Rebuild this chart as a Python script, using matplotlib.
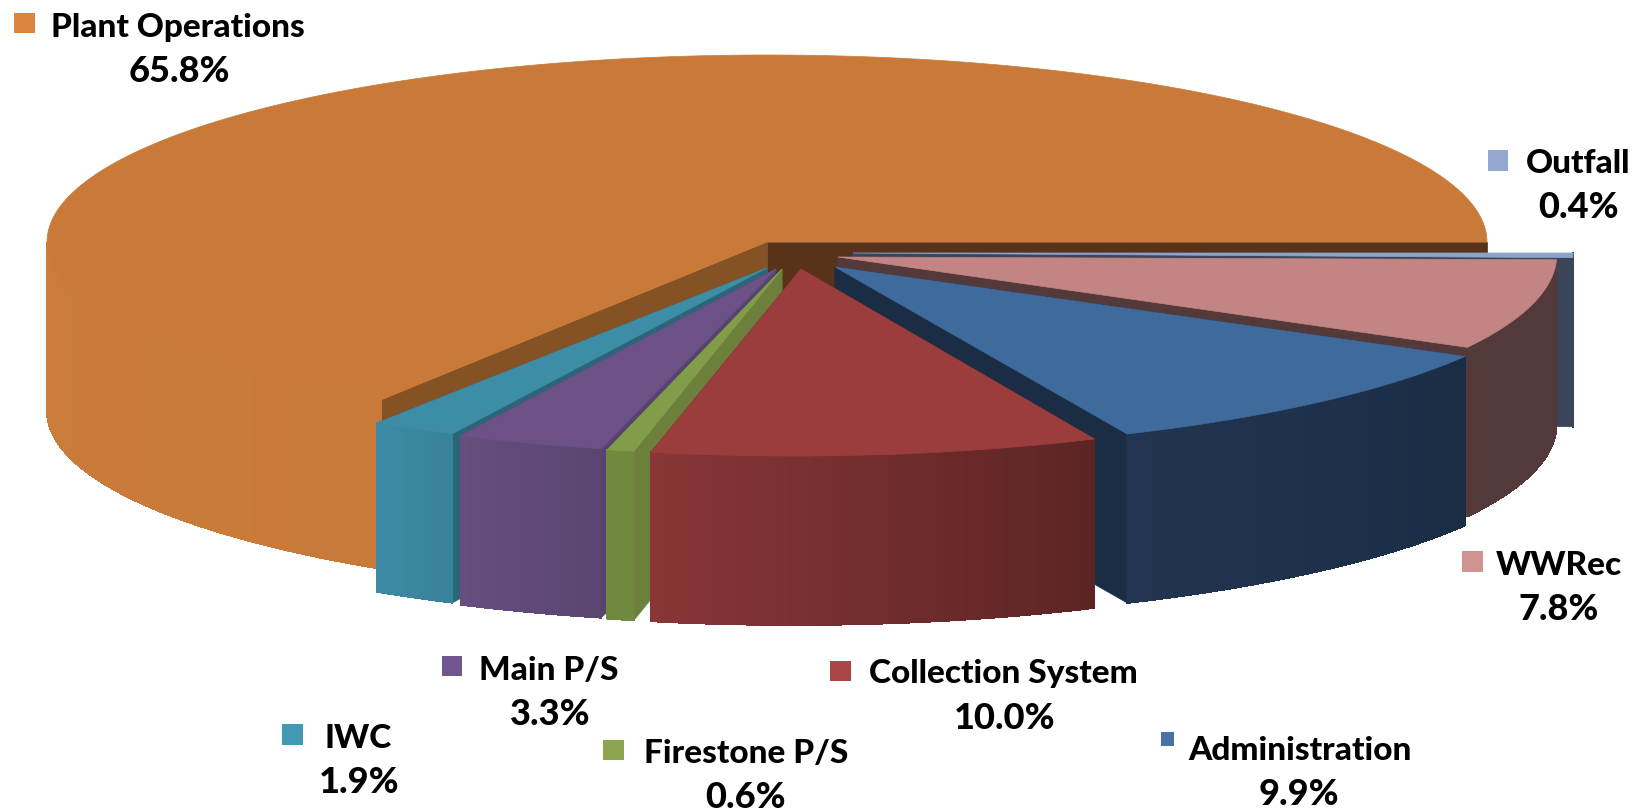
"""
Exploded 3D style pie of cost shares
"""
import matplotlib
matplotlib.use('Agg')
import matplotlib.pyplot as plt
import numpy as np
from matplotlib.collections import PolyCollection
from matplotlib.colors import to_rgb
from matplotlib.patches import Polygon, Rectangle

labels = ['Plant Operations', 'IWC', 'Main P/S', 'Firestone P/S',
          'Collection System', 'Administration', 'WWRec', 'Outfall']
shares = [65.8, 1.9, 3.3, 0.6, 10.0, 9.9, 7.8, 0.4]

# pie geometry, in pixels of the picture
CX, CY, RX, RY, DEPTH = 767, 242, 720, 187, 169

top_colors = ['#C97A38', '#3E8DA6', '#6C5187', '#829D4A', '#9C3D3D', '#3F6A9C', '#C28583', '#8CA3CB']
face_start = ['#58331A', '#2A6578', '#57436F', '#6C803C', '#70292A', '#1A2D45', '#53393A', '#3B4557']
face_end = ['#845224', '#2A6578', '#57436F', '#6C803C', '#70292A', '#1A2D45', '#53393A', '#3B4557']
side_left = ['#CB7C3A', '#3C8BA4', '#674E7E', '#6F8A3E', '#883636', '#22344F', '#53393A', '#3B4557']
side_right = ['#C87A38', '#38829A', '#5A4570', '#6F8A3E', '#5C2424', '#1A2D45', '#53393A', '#3B4557']
key_colors = ['#D9853E', '#4299B3', '#70568F', '#8BA64E', '#A84646', '#4772A8', '#CF9390', '#95A8D0']

rim_offset = [(0, 0), (-4, 23), (4, 25), (10, 26), (27, 27), (66, 22), (72, 13), (86, 11)]
rim_stretch = [1, 1, 1, 1, 1, 1.037, 0.95, 1]
apex_pos = [(767, 242), (767, 268), (776, 269), (782, 269), (801, 269), (835, 267), (838, 257), (853, 253)]

# legend keys: left, top, width, height
key_box = [(14, 13, 21, 20), (282, 724, 21, 21), (442, 656, 20, 20), (603, 740, 21, 20),
           (830, 661, 21, 20), (1161, 732, 13, 14), (1462, 551, 21, 21), (1488, 150, 20, 21)]
name_xy = [(178, 37), (358, 748), (549, 680), (746, 763), (1003, 683), (1300, 760), (1559, 575), (1578, 173)]
pct_xy = [(179, 82), (359, 793), (550, 725), (746, 808), (1005, 729), (1299, 805), (1559, 620), (1579, 218)]


def rim(a0, a1, i, n=200):
    t = np.radians(np.linspace(a0, a1, n))
    x = CX + RX * np.cos(t)
    y = CY - RY * np.sin(t)
    mid = (x[0] + x[-1]) / 2
    return mid + (x - mid) * rim_stretch[i] + rim_offset[i][0], y + rim_offset[i][1]


def draw_slice(ax, i, a0, a1):
    x, y = rim(a0, a1, i)
    apex = apex_pos[i]

    # the two cut faces go in first, the wall and the top hide most of them
    for px, py, col in [(x[0], y[0], face_start[i]), (x[-1], y[-1], face_end[i])]:
        ax.add_patch(Polygon([apex, (px, py), (px, py + DEPTH), (apex[0], apex[1] + DEPTH)],
                             facecolor=col, edgecolor=col, linewidth=0.5))

    # side wall, in thin strips so the shading runs along the rim
    mask = np.linspace(a0, a1, len(x)) >= 180
    xs, ys = x[mask], y[mask]
    if len(xs) > 1:
        c0, c1 = np.array(to_rgb(side_left[i])), np.array(to_rgb(side_right[i]))
        quads, cols = [], []
        for k in range(len(xs) - 1):
            quads.append([(xs[k], ys[k]), (xs[k + 1], ys[k + 1]),
                          (xs[k + 1], ys[k + 1] + DEPTH), (xs[k], ys[k] + DEPTH)])
            cols.append(c0 + (c1 - c0) * k / (len(xs) - 1))
        ax.add_collection(PolyCollection(quads, facecolors=cols, edgecolors=cols,
                                         linewidths=0.6, antialiaseds=False))

    # top face
    ax.add_patch(Polygon(list(zip(x, y)) + [apex], facecolor=top_colors[i],
                         edgecolor=top_colors[i], linewidth=0.5))


fig = plt.figure(figsize=(16.48, 8.11), dpi=100)
ax = fig.add_axes([0, 0, 1, 1])
ax.set_xlim(0, 1648)
ax.set_ylim(811, 0)
ax.axis('off')

edges = np.cumsum([0] + shares) / np.sum(shares) * 360

# back to front
for i in [0, 7, 6, 1, 2, 3, 5, 4]:
    draw_slice(ax, i, edges[i], edges[i + 1])

font = dict(family=['Lato', 'DejaVu Sans'], fontweight='black', color='black', ha='center', va='baseline')
for i, name in enumerate(labels):
    left, top, w, h = key_box[i]
    ax.add_patch(Rectangle((left, top), w, h, facecolor=key_colors[i], edgecolor='none'))
    ax.text(name_xy[i][0], name_xy[i][1], name, fontsize=24, **font)
    ax.text(pct_xy[i][0], pct_xy[i][1], f'{shares[i]:.1f}%', fontsize=26, **font)

fig.savefig('out.png', dpi=100)
